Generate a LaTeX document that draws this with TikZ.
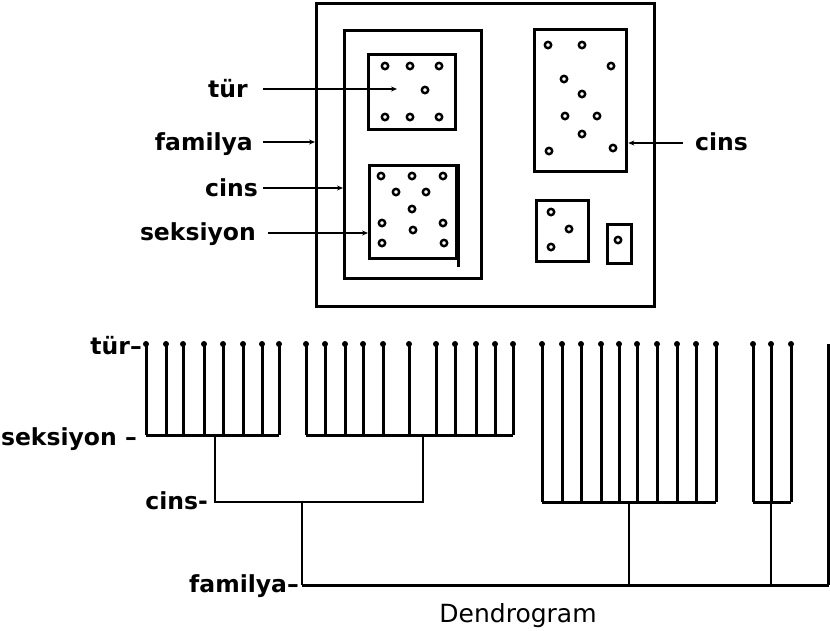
\documentclass[tikz,border=0pt]{standalone}
\usepackage{fontspec}
\setmainfont{DejaVu Sans}
\usetikzlibrary{arrows.meta}
\begin{document}
\begin{tikzpicture}[x=1pt,y=-1pt,
  box/.style={line width=3.3pt},
  dotmark/.style={draw,line width=2.4pt,fill=white},
  lbl/.style={font=\bfseries\fontsize{23.5}{28}\selectfont,inner sep=0pt},
  ptr/.style={line width=2pt,-{Stealth[length=6pt,width=5pt]}},
  leaf/.style={line width=3pt},
  link/.style={line width=2.2pt},
  tip/.style={fill,circle,inner sep=0pt,minimum size=6pt}
]
\useasboundingbox (0,0) rectangle (830,630);
% ---------- top boxes ----------
\node[draw,box,inner sep=0pt,minimum width=338pt,minimum height=303pt,anchor=north west] (outer) at (315,2) {};
\node[draw,box,inner sep=0pt,minimum width=137pt,minimum height=248pt,anchor=north west] (fam) at (343,29) {};
\node[draw,box,inner sep=0pt,minimum width=87pt,minimum height=75pt,anchor=north west] (turbox) at (367,53) {};
\node[draw,box,inner sep=0pt,minimum width=87pt,minimum height=93pt,anchor=north west] (seksbox) at (368,164) {};
\draw[box] (seksbox.north east) -- ++(0,103);
\node[draw,box,inner sep=0pt,minimum width=92pt,minimum height=142pt,anchor=north west] (cinsbox) at (533,28) {};
\node[draw,box,inner sep=0pt,minimum width=52pt,minimum height=61pt,anchor=north west] (small) at (535,199) {};
\node[draw,box,inner sep=0pt,minimum width=24pt,minimum height=39pt,anchor=north west] (tiny) at (606,223) {};
% dots
\foreach \p in {(385,66),(410,66),(439,66),(425,90),(385,117),(410,117),(439,117),
  (381,176),(412,176),(443,176),(396,192),(426,192),(412,209),(382,223),(443,223),(413,230),(382,243),(444,243),
  (548,45),(582,45),(611,66),(564,79),(582,94),(565,116),(597,116),(582,134),(549,151),(613,148),
  (551,212),(569,229),(551,247),(618,240)}
  \draw[dotmark] \p circle (3.2pt);
% labels with pointers
\coordinate (turtip) at (397,89);
\node[lbl,anchor=base east] (ltur) at (248,97) {tür};
\draw[ptr] (263,89) -- (turtip);
\node[lbl,anchor=base east] (lfam) at (253,150) {familya};
\draw[ptr] (263,142) -- (outer.west |- 0,142);
\node[lbl,anchor=base east] (lcins) at (258,196) {cins};
\draw[ptr] (263,188) -- (fam.west |- 0,188);
\node[lbl,anchor=base east] (lseks) at (256,240) {seksiyon};
\draw[ptr] (268,233) -- (seksbox.west |- 0,233);
\node[lbl,anchor=base west] (rcins) at (695,150) {cins};
\draw[ptr] (683,143) -- (cinsbox.east |- 0,143);
% ---------- dendrogram ----------
\def\ytop{344}
\def\yseks{435}
\def\ycins{502}
\def\yfam{585}
% group 1
\foreach \x in {146,166,183,204,223,243,262,279}{
  \draw[leaf] (\x,\ytop) -- (\x,\yseks);
  \node[tip] at (\x,\ytop) {};
}
\draw[leaf] (146,\yseks) -- (279,\yseks);
% group 2
\foreach \x in {306,325,345,363,383,409,436,455,476,495,513}{
  \draw[leaf] (\x,\ytop) -- (\x,\yseks);
  \node[tip] at (\x,\ytop) {};
}
\draw[leaf] (306,\yseks) -- (513,\yseks);
% cins link
\coordinate (s1) at (215,\yseks);
\coordinate (s2) at (423,\yseks);
\draw[link] (s1) -- (215,\ycins) -- (423,\ycins) -- (s2);
\draw[link] (302,\ycins) -- (302,\yfam);
% group 3
\foreach \x in {542,562,581,601,619,637,657,677,696,716}{
  \draw[leaf] (\x,\ytop) -- (\x,\ycins);
  \node[tip] at (\x,\ytop) {};
}
\draw[leaf] (542,\ycins) -- (716,\ycins);
\draw[link] (629,\ycins) -- (629,\yfam);
% group 4
\foreach \x in {753,771,791}{
  \draw[leaf] (\x,\ytop) -- (\x,\ycins);
  \node[tip] at (\x,\ytop) {};
}
\draw[leaf] (753,\ycins) -- (791,\ycins);
\draw[link] (771,\ycins) -- (771,\yfam);
% group 5
\draw[leaf] (828,\ytop) -- (828,\yfam);
% familya bar
\draw[leaf] (302,\yfam) -- (829,\yfam);
% level labels
\node[lbl,anchor=base east] (dtur) at (142,354) {tür–};
\node[lbl,anchor=base east] (dseks) at (137,445) {seksiyon –};
\node[lbl,anchor=base east] (dcins) at (208,509) {cins-};
\node[lbl,anchor=base east] (dfam) at (299,592) {familya–};
\node[font=\fontsize{25}{30}\selectfont,inner sep=0pt,anchor=base] (title) at (518,622) {Dendrogram};
\end{tikzpicture}
\end{document}
